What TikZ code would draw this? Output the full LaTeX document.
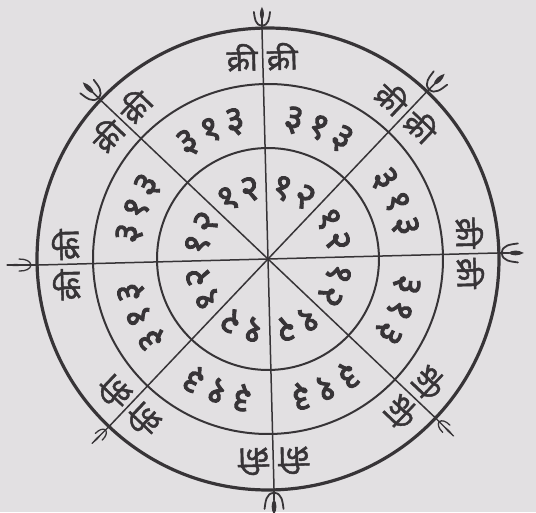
\documentclass[tikz,border=0pt]{standalone}
\usepackage{fontspec}
\newfontfamily\devfont[Script=Devanagari, FakeBold=1.5]{Noto Sans}
\newfontfamily\devnum[Script=Devanagari, FakeBold=2.5]{Noto Sans}
\definecolor{paper}{RGB}{226,224,226}
\definecolor{ink}{RGB}{55,52,55}
\tikzset{
  radial/.style={line width=1.5pt, draw=ink},
  ringline/.style={line width=2pt, draw=ink},
  outerline/.style={line width=3.2pt, draw=ink},
  kri/.style={font=\devfont\fontsize{30}{30}\selectfont, text=ink, inner sep=0pt},
  numtxt/.style={font=\devnum\fontsize{37}{37}\selectfont, text=ink, inner sep=0pt},
  bigtrishul/.pic={
    \draw[ink, line width=1.5pt] (0,0) -- (0,10);
    \fill[ink] (0,25) .. controls (3.2,19) and (3.2,14) .. (0,9) .. controls (-3.2,14) and (-3.2,19) .. (0,25) -- cycle;
    \draw[ink, line width=1.8pt] (0,3) .. controls (8,3) and (8.5,12) .. (9.5,19);
    \draw[ink, line width=1.8pt] (0,3) .. controls (-8,3) and (-8.5,12) .. (-9.5,19);
  },
  smalltrishul/.pic={
    \draw[ink, line width=1.3pt] (0,0) -- (0,30);
    \fill[ink] (0,29) .. controls (1.6,24) and (1.6,19) .. (0,14) .. controls (-1.6,19) and (-1.6,24) .. (0,29) -- cycle;
    \draw[ink, line width=1.3pt] (0,6) .. controls (4,7) and (6,11) .. (6,18);
    \draw[ink, line width=1.3pt] (0,6) .. controls (-4,7) and (-6,11) .. (-6,18);
  }
}
\begin{document}
\begin{tikzpicture}[x=1pt, y=1pt, line cap=round]
\fill[paper] (-268,-253) rectangle (268,259);
\useasboundingbox (-268,-253) rectangle (268,259);
\clip (-268,-253) rectangle (268,259);
\begin{scope}[rotate=1.5]
  \coordinate (C) at (0,0);
  % radial lines
  \foreach \a in {0,45,...,315} {
    \coordinate (o\a) at (\a:231);
    \draw[radial] (C) -- (o\a);
  }
  % circles
  \draw[outerline] (C) circle (231);
  \draw[ringline] (C) circle (175);
  \draw[ringline] (C) circle (111);
  % tridents
  \pic[rotate=-90] at (o0) {bigtrishul};
  \pic[rotate=-45] at (o45) {bigtrishul};
  \pic[rotate=0, scale=0.85] at (o90) {bigtrishul};
  \pic[rotate=45] at (o135) {bigtrishul};
  \pic[rotate=90] at (o180) {smalltrishul};
  \pic[rotate=135, scale=0.8] at (o225) {smalltrishul};
  \pic[rotate=180] at (o270) {bigtrishul};
  \pic[rotate=225, scale=0.85] at (o315) {smalltrishul};
  % outer ring texts
  \foreach \a in {0,45,...,315} {
    \begin{scope}[rotate=\a-90, transform shape]
      \node[kri, anchor=east] (kl\a) at (-5,202) {क्री};
      \node[kri, anchor=west] (kr\a) at (4,202) {क्री};
    \end{scope}
  }
  % middle and inner ring numbers
  \foreach \p [count=\i] in {22.5,67.5,112.5,157.5,202.5,247.5,292.5,337.5} {
    \foreach \k/\g [count=\j] in {10.5/३, 0/१, -10.5/३} {
      \pgfmathsetmacro\ang{\p+\k}
      \node[numtxt, rotate=\ang-90] (m\i n\j) at (\ang:141) {\g};
    }
    \foreach \k/\g [count=\j] in {9.5/१, -9.5/२} {
      \pgfmathsetmacro\ang{\p+\k}
      \node[numtxt, rotate=\ang-90] (c\i n\j) at (\ang:72) {\g};
    }
  }
\end{scope}
\end{tikzpicture}
\end{document}
